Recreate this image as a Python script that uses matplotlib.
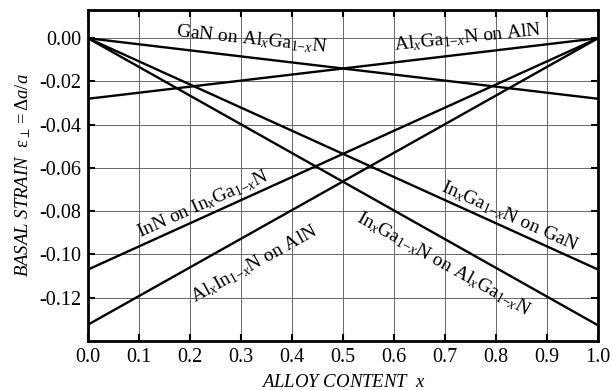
import numpy as np
import matplotlib
matplotlib.use("Agg")
import matplotlib.pyplot as plt

plt.rcParams['font.family'] = ['Liberation Serif', 'DejaVu Serif']
plt.rcParams['mathtext.fontset'] = 'custom'
plt.rcParams['mathtext.rm'] = 'Liberation Serif'
plt.rcParams['mathtext.it'] = 'Liberation Serif:italic'
plt.rcParams['mathtext.bf'] = 'Liberation Serif:bold'
plt.rcParams['axes.unicode_minus'] = False

# alloy content at the two ends of every line
alloy_x = [0.0, 1.0]

# strain at x=0 and x=1 for each system
gan_on_algan = [0.0, -0.028]
algan_on_aln = [-0.028, 0.0]
ingan_on_gan = [0.0, -0.107]
inn_on_ingan = [-0.107, 0.0]
alinn_on_aln = [-0.1325, 0.0]
ingan_on_algan = [0.0, -0.1328]

series = [gan_on_algan, algan_on_aln, ingan_on_gan,
          inn_on_ingan, alinn_on_aln, ingan_on_algan]

labels = [r"GaN on Al$_x$Ga$_{1\mathrm{-}x}$N",
          r"Al$_x$Ga$_{1\mathrm{-}x}$N on AlN",
          r"In$_x$Ga$_{1\mathrm{-}x}$N on GaN",
          r"InN on In$_x$Ga$_{1\mathrm{-}x}$N",
          r"Al$_x$In$_{1\mathrm{-}x}$N on AlN",
          r"In$_x$Ga$_{1\mathrm{-}x}$N on Al$_x$Ga$_{1\mathrm{-}x}$N"]
label_x = [0.32, 0.745, 0.827, 0.226, 0.327, 0.696]
label_y = [-0.0005, 0.0003, -0.0825, -0.0768, -0.1045, -0.1045]
label_rot = [-6, 6, -24, 24, 29, -29]

xticks = np.round(np.arange(0, 1.01, 0.1), 1)
yticks = np.round(np.arange(-0.12, 0.001, 0.02), 2)

fig = plt.figure(figsize=(6.13, 3.9), dpi=100)
ax = fig.add_axes([0.1436, 0.126, 0.8319, 0.848])

for s in series:
    ax.plot(alloy_x, s, color='black', lw=1.7, solid_capstyle='butt', zorder=3)

for t, lx, ly, r in zip(labels, label_x, label_y, label_rot):
    ax.text(lx, ly, t, fontsize=14, rotation=r, rotation_mode='anchor',
            ha='center', va='center', zorder=4)

ax.set_xlim(0, 1)
ax.set_ylim(-0.14, 0.013)
ax.set_xticks(xticks)
ax.set_xticklabels(["%.1f" % v for v in xticks])
ax.set_yticks(yticks)
ax.set_yticklabels(["%.2f" % v for v in yticks])
ax.grid(True, color='#666666', lw=0.7, zorder=1)
ax.tick_params(direction='in', length=5, width=1.5, labelsize=14.5,
               top=True, right=True, pad=5)
for sp in ax.spines.values():
    sp.set_linewidth(2)

ax.set_xlabel(r"ALLOY CONTENT  $x$", fontsize=13.5, style='italic', labelpad=5)
ax.set_ylabel(r"$\mathit{BASAL\ STRAIN}\ \ \mathrm{\varepsilon}_{\perp} = \Delta a/a$",
              fontsize=13.5, labelpad=4)

fig.savefig("out.png", dpi=100)
